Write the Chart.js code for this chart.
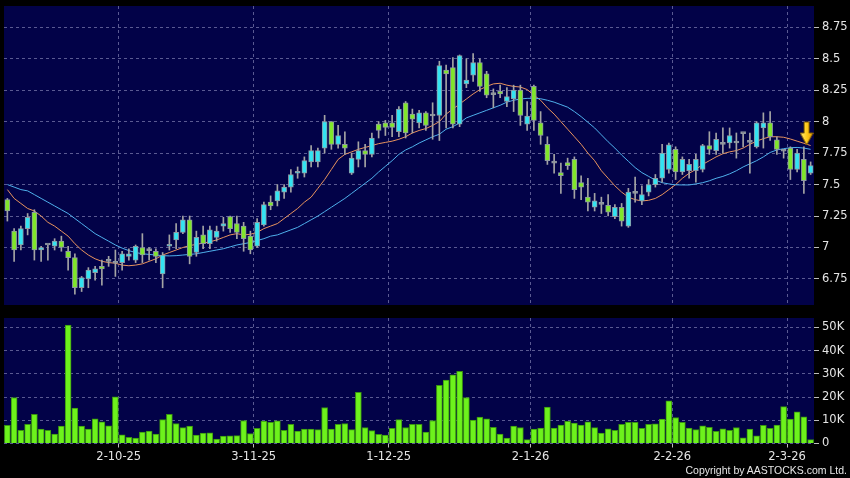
<!DOCTYPE html>
<html lang="en">
<head>
<meta charset="utf-8" />
<title>Candles</title>
<script src="https://cdn.jsdelivr.net/npm/chart.js"></script>
<style>
  html, body { margin: 0; padding: 0; background: #000; }
  .painel { position: relative; width: 850px; height: 478px; background: #000; overflow: hidden; }
  #grafico_preco { position: absolute; left: 0; top: 0; }
  #grafico_volume { position: absolute; left: 0; top: 310px; }
  .copyright { position: absolute; right: 3px; top: 464px; color: #e6e6e6; font: 10.5px "Liberation Sans", sans-serif; }
</style>
</head>
<body>
<div class="painel">
  <canvas id="grafico_preco" width="850" height="310"></canvas>
  <canvas id="grafico_volume" width="850" height="168"></canvas>
  <div class="copyright">Copyright by AASTOCKS.com Ltd.</div>
</div>
<script>
// daily candles, oldest first
const opens = [7.38,7.13,7.02,7.15,7.28,6.98,7.02,7.01,7.05,6.97, 6.92,6.68,6.75,6.80,6.85,6.89,6.875,6.88,6.93,6.90,
  7.00,6.975,6.97,6.79,7.01,7.06,7.12,7.22,6.96,7.10, 7.03,7.08,7.17,7.245,7.19,7.17,7.09,7.01,7.18,7.36,
  7.37,7.44,7.48,7.59,7.59,7.68,7.68,7.79,8.00,7.82, 7.82,7.59,7.70,7.77,7.74,7.98,7.99,7.99,7.92,8.15,
  8.06,7.99,8.07,8.045,8.05,8.41,8.43,7.98,8.30,8.37, 8.47,8.38,8.215,8.24,8.16,8.18,8.25,7.98,8.28,7.99,
  7.82,7.67,7.595,7.675,7.70,7.515,7.40,7.32,7.343,7.335, 7.245,7.32,7.17,7.43,7.37,7.44,7.50,7.55,7.62,7.78,
  7.60,7.61,7.61,7.62,7.81,7.77,7.82,7.83,7.83,7.905, 7.835,7.80,7.95,7.99,7.855,7.765,7.79,7.62,7.70,7.59];
const highs = [7.39,7.15,7.17,7.27,7.30,7.01,7.02,7.07,7.09,7.01, 6.95,6.77,6.84,6.85,6.90,6.93,6.98,6.97,6.99,7.02,
  7.11,7.00,6.99,6.96,7.10,7.19,7.25,7.25,7.13,7.17, 7.17,7.17,7.24,7.25,7.25,7.20,7.13,7.23,7.36,7.41,
  7.50,7.50,7.62,7.64,7.72,7.81,7.79,8.05,8.00,7.97, 7.92,7.75,7.84,7.82,7.91,8.00,8.01,8.05,8.12,8.16,
  8.10,8.09,8.08,8.15,8.48,8.45,8.51,8.53,8.50,8.54, 8.50,8.40,8.26,8.29,8.27,8.29,8.29,8.16,8.29,8.08,
  7.88,7.74,7.67,7.71,7.72,7.57,7.55,7.43,7.40,7.42, 7.34,7.35,7.47,7.56,7.49,7.54,7.58,7.82,7.83,7.80,
  7.72,7.70,7.74,7.82,7.92,7.91,7.95,7.95,7.91,7.91, 7.91,8.00,8.07,8.08,7.88,7.78,7.80,7.78,7.80,7.68];
const lows = [7.21,6.89,6.98,7.10,6.90,6.89,6.90,6.98,6.97,6.82, 6.63,6.65,6.68,6.74,6.70,6.85,6.77,6.82,6.90,6.88,
  6.88,6.90,6.88,6.68,6.98,6.99,7.11,6.87,6.93,6.99, 6.99,7.05,7.13,7.12,7.07,6.97,6.95,7.00,7.17,7.30,
  7.33,7.39,7.44,7.55,7.56,7.64,7.64,7.75,7.78,7.79, 7.74,7.58,7.64,7.64,7.72,7.87,7.89,7.88,7.88,7.87,
  7.91,7.95,7.93,7.86,7.85,7.95,7.95,7.96,8.27,8.32, 8.24,8.19,8.11,8.19,8.12,8.08,7.97,7.93,7.93,7.82,
  7.66,7.59,7.43,7.62,7.39,7.38,7.29,7.29,7.27,7.25, 7.23,7.17,7.16,7.36,7.34,7.41,7.48,7.52,7.59,7.54,
  7.58,7.55,7.52,7.60,7.74,7.74,7.75,7.79,7.71,7.80, 7.59,7.79,7.79,7.85,7.74,7.71,7.54,7.60,7.43,7.58];
const closes = [7.29,6.98,7.15,7.24,6.98,7.00,7.02,7.05,7.00,6.92, 6.68,6.76,6.82,6.83,6.83,6.89,6.875,6.95,6.95,7.01,
  6.94,6.975,6.93,6.94,7.02,7.12,7.22,6.93,7.08,7.03, 7.14,7.13,7.19,7.15,7.12,7.07,6.98,7.20,7.34,7.33,
  7.45,7.48,7.58,7.60,7.69,7.77,7.77,8.00,7.82,7.89, 7.79,7.71,7.77,7.74,7.87,7.93,7.955,7.955,8.10,7.91,
  8.02,8.07,7.97,8.045,8.445,8.38,7.98,8.525,8.33,8.47, 8.28,8.21,8.215,8.22,8.20,8.25,8.05,8.045,8.01,7.89,
  7.69,7.67,7.57,7.65,7.46,7.48,7.36,7.37,7.343,7.28, 7.32,7.21,7.44,7.43,7.42,7.50,7.55,7.75,7.815,7.60,
  7.70,7.66,7.70,7.81,7.78,7.86,7.82,7.89,7.83,7.905, 7.835,7.99,7.99,7.88,7.78,7.765,7.62,7.75,7.53,7.65];

// volume in thousands
const volumesK = [7.8,19.8,5.7,8.3,12.5,6.2,5.7,4.0,7.5,51, 15.2,7.5,6.2,10.6,9.3,7.6,20.1,3.7,2.7,2.3,
  4.9,5.3,4.0,10.3,12.5,8.6,6.8,7.5,3.6,4.5, 4.6,1.9,3.2,3.3,3.4,9.9,4.3,6.5,9.6,9.1,
  9.8,5.7,8.2,5.3,6.2,6.2,6.0,15.5,6.2,8.2, 8.6,6.0,22.0,6.9,5.6,3.9,3.6,6.5,10.3,6.9,
  8.2,8.2,4.9,9.9,25.0,27.3,29.5,31.0,19.8,10.1, 11.4,10.6,7.0,4.0,2.3,7.5,6.9,1.7,6.2,6.6,
  15.7,6.6,7.9,9.5,8.8,7.9,9.3,6.8,4.5,6.3, 5.7,8.3,9.1,9.1,6.5,8.2,8.5,10.5,18.4,11.2,
  9.1,6.6,6.0,7.6,7.0,5.2,6.3,5.7,6.9,2.4, 6.2,3.3,7.8,6.5,7.9,15.9,10.5,13.6,11.5,1.7];

// moving averages (orange = short, blue = long)
const maShort = [7.46,7.39,7.35,7.31,7.29,7.25,7.20,7.17,7.13,7.09, 7.03,6.98,6.94,6.91,6.89,6.88,6.875,6.86,6.855,6.86,
  6.87,6.89,6.91,6.94,6.96,6.98,7.00,7.015,7.025,7.035, 7.045,7.06,7.08,7.10,7.11,7.10,7.105,7.12,7.15,7.17,
  7.19,7.23,7.27,7.31,7.36,7.40,7.47,7.54,7.62,7.70, 7.74,7.76,7.78,7.795,7.81,7.825,7.835,7.845,7.86,7.88,
  7.91,7.93,7.945,7.97,8.00,8.06,8.10,8.14,8.18,8.22, 8.255,8.28,8.30,8.305,8.29,8.28,8.275,8.255,8.21,8.17,
  8.11,8.06,8.00,7.94,7.88,7.82,7.75,7.69,7.61,7.55, 7.49,7.44,7.40,7.38,7.37,7.375,7.39,7.42,7.46,7.50,
  7.55,7.59,7.62,7.66,7.69,7.72,7.745,7.76,7.77,7.79, 7.82,7.845,7.865,7.88,7.88,7.876,7.862,7.845,7.828,7.81];
const maLong = [7.50,7.48,7.46,7.45,7.42,7.39,7.36,7.33,7.30,7.27, 7.23,7.19,7.15,7.11,7.08,7.05,7.02,6.995,6.975,6.96,
  6.95,6.945,6.94,6.935,6.933,6.935,6.94,6.945,6.95,6.96, 6.97,6.98,6.99,7.005,7.02,7.03,7.04,7.055,7.07,7.09,
  7.10,7.12,7.14,7.16,7.19,7.22,7.25,7.285,7.32,7.355, 7.39,7.43,7.47,7.51,7.55,7.60,7.645,7.69,7.74,7.775,
  7.80,7.83,7.855,7.88,7.90,7.94,7.96,7.99,8.03,8.05, 8.07,8.09,8.11,8.13,8.155,8.17,8.18,8.185,8.186,8.182,
  8.17,8.155,8.135,8.115,8.08,8.04,7.995,7.95,7.895,7.84, 7.79,7.735,7.685,7.635,7.595,7.565,7.535,7.515,7.505,7.498,
  7.497,7.497,7.505,7.515,7.53,7.55,7.565,7.585,7.61,7.64, 7.665,7.69,7.72,7.755,7.775,7.785,7.793,7.795,7.79,7.78];

// axis ticks
const dateTickPos = [16.5, 36.5, 56.5, 77.5, 98.5, 115.5];
const dateLabels = ['2-10-25', '3-11-25', '1-12-25', '2-1-26', '2-2-26', '2-3-26'];
const priceTicks = [6.75, 7, 7.25, 7.5, 7.75, 8, 8.25, 8.5, 8.75];
const volumeTicks = [0, 10, 20, 30, 40, 50];
const arrowMark = [{ x: 118.4, y: 7.906 }];

const NAVY = '#020248';
const GRID = '#5a5a92';
const TXT = '#e4e4e4';
Chart.defaults.font.family = 'DejaVu Sans';
Chart.defaults.font.size = 11.5;

// fundo azul só na área do gráfico
const fundo = {
    id: 'fundo',
    beforeDraw(chart) {
        const { ctx, chartArea: a } = chart;
        ctx.save();
        ctx.fillStyle = NAVY;
        ctx.fillRect(a.left, a.top, a.right - a.left, a.bottom - a.top);
        ctx.restore();
    }
};

// tira o padding automático dos eixos
function semPadding(s) {
    s.paddingTop = 0; s.paddingBottom = 0; s.paddingLeft = 0; s.paddingRight = 0;
}

function desenharSeta() {
    const c = document.createElement('canvas');
    c.width = 14; c.height = 25;
    const g = c.getContext('2d');
    g.beginPath();
    g.moveTo(4.5, 1); g.lineTo(9.5, 1); g.lineTo(9.5, 12); g.lineTo(13.5, 12);
    g.lineTo(7, 24); g.lineTo(0.5, 12); g.lineTo(4.5, 12); g.closePath();
    const grad = g.createLinearGradient(0, 0, 14, 0);
    grad.addColorStop(0, '#fff08a');
    grad.addColorStop(0.5, '#ffcc1a');
    grad.addColorStop(1, '#e89a00');
    g.fillStyle = grad;
    g.fill();
    g.strokeStyle = '#7a5600';
    g.lineWidth = 1;
    g.stroke();
    return c;
}

const idx = closes.map((_, i) => i);
const bodyColor = idx.map(i => closes[i] > opens[i] ? '#33e3f2' : (closes[i] < opens[i] ? '#80e62a' : '#9a9a9a'));

const xComum = {
    type: 'linear', min: -0.5, max: 119.5, offset: false,
    afterBuildTicks: s => { s.ticks = dateTickPos.map(v => ({ value: v })); },
    border: { display: false, dash: [3, 3] }
};

new Chart(document.getElementById('grafico_preco'), {
    type: 'bar',
    data: {
        datasets: [
            {
                type: 'line', label: 'MA curta', order: 4,
                data: idx.map(i => ({ x: i, y: maShort[i] })),
                borderColor: '#e8935e', borderWidth: 1, pointRadius: 0, tension: 0
            },
            {
                type: 'line', label: 'MA longa', order: 3,
                data: idx.map(i => ({ x: i, y: maLong[i] })),
                borderColor: '#4fb0ec', borderWidth: 1, pointRadius: 0, tension: 0
            },
            {
                label: 'pavio', order: 2, grouped: false,
                data: idx.map(i => ({ x: i, y: [lows[i], highs[i]] })),
                backgroundColor: '#a4a4a4', barThickness: 1, borderWidth: 0
            },
            {
                label: 'corpo', order: 1, grouped: false,
                data: idx.map(i => ({ x: i, y: [opens[i], closes[i]] })),
                backgroundColor: bodyColor, borderColor: '#8f99a3', borderWidth: 1,
                borderSkipped: false, barThickness: 5, minBarLength: 2
            },
            {
                type: 'line', label: 'seta', order: 0, showLine: false,
                data: arrowMark,
                pointStyle: desenharSeta(), pointRadius: 1
            }
        ]
    },
    options: {
        responsive: false,
        animation: false,
        layout: { autoPadding: false, padding: { left: 4, top: 6, right: 0, bottom: 5 } },
        plugins: { legend: { display: false }, tooltip: { enabled: false } },
        scales: {
            x: Object.assign({}, xComum, {
                afterFit: s => { s.height = 0; semPadding(s); },
                grid: { color: GRID, offset: false, drawTicks: false },
                ticks: { display: false }
            }),
            y: {
                position: 'right', min: 6.543, max: 8.919,
                afterBuildTicks: s => { s.ticks = priceTicks.map(v => ({ value: v })); },
                afterFit: s => { s.width = 36; semPadding(s); },
                grid: { color: GRID, tickLength: 5, tickColor: '#bdbdbd' },
                border: { display: false, dash: [3, 3] },
                ticks: { color: TXT, padding: 3, callback: v => String(+v.toFixed(2)) }
            }
        }
    },
    plugins: [fundo]
});

new Chart(document.getElementById('grafico_volume'), {
    type: 'bar',
    data: {
        datasets: [{
            label: 'Volume',
            data: idx.map(i => ({ x: i, y: volumesK[i] })),
            backgroundColor: '#6df21c', borderColor: '#3a9410', borderWidth: 1,
            borderSkipped: 'start', barThickness: 6
        }]
    },
    options: {
        responsive: false,
        animation: false,
        layout: { autoPadding: false, padding: { left: 4, top: 8, right: 0, bottom: 0 } },
        plugins: { legend: { display: false }, tooltip: { enabled: false } },
        scales: {
            x: Object.assign({}, xComum, {
                afterFit: s => { s.height = 34.5; semPadding(s); },
                grid: { color: GRID, offset: false, tickLength: 4, tickColor: '#bdbdbd' },
                ticks: {
                    color: TXT, padding: 3, autoSkip: false, maxRotation: 0,
                    callback: (v, i) => dateLabels[i]
                }
            }),
            y: {
                position: 'right', min: 0, max: 54,
                afterBuildTicks: s => { s.ticks = volumeTicks.map(v => ({ value: v })); },
                afterFit: s => { s.width = 36; semPadding(s); },
                grid: { color: GRID, tickLength: 5, tickColor: '#bdbdbd' },
                border: { display: false, dash: [3, 3] },
                ticks: { color: TXT, padding: 3, callback: v => v === 0 ? '0' : v + 'K' }
            }
        }
    },
    plugins: [fundo]
});
</script>
</body>
</html>
